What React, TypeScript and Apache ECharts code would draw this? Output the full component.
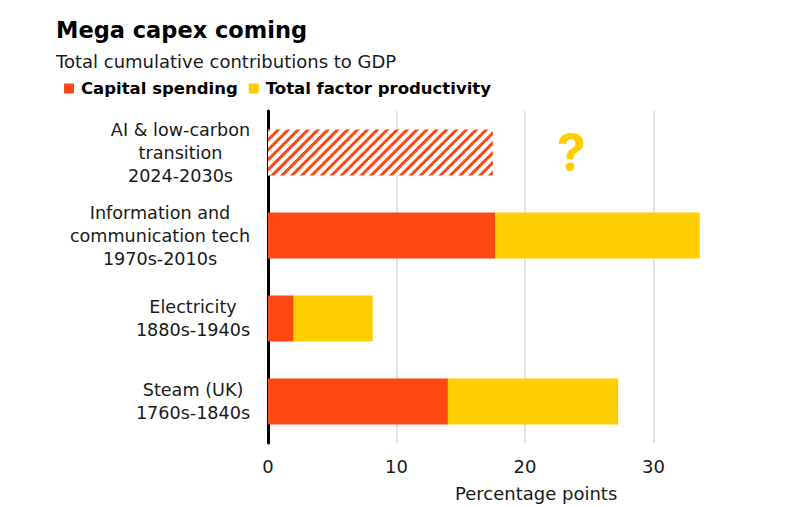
import React, { useEffect, useRef } from "react";
import * as echarts from "echarts";

const CATEGORIES = [
  "AI & low-carbon\ntransition\n2024-2030s",
  "Information and\ncommunication tech\n1970s-2010s",
  "Electricity\n1880s-1940s",
  "Steam (UK)\n1760s-1840s",
];
const CAPITAL_SPENDING = [17.5, 17.7, 2.0, 14.0];
const TFP = [null, 15.9, 6.15, 13.25];
const HATCHED_INDEX = 0;
const QUESTION_MARK_X = 23.6;
const X_TICKS_MAX = 35;

const FONT = "'DejaVu Sans', sans-serif";
const ORANGE = "#ff4713";
const YELLOW = "#ffce00";
const TEXT = "#1a1a1a";

function measure(text: string, font: string) {
  const ctx = document.createElement("canvas").getContext("2d")!;
  ctx.font = font;
  return ctx.measureText(text).width;
}

export default function App() {
  const ref = useRef<HTMLDivElement>(null);
  useEffect(() => {
    const chart = echarts.init(ref.current!, null, { renderer: "svg" });
    const labelFontSize = 17.6;
    const rich: Record<string, any> = {};
    CATEGORIES.forEach((c, i) => {
      const w = Math.max(
        ...c.split("\n").map((s) => measure(s, `${labelFontSize}px ${FONT}`))
      );
      rich["l" + i] = {
        width: Math.ceil(w) + 1,
        align: "center",
        fontSize: labelFontSize,
        lineHeight: 23,
        color: TEXT,
        fontFamily: FONT,
      };
    });

    chart.setOption({
      animation: false,
      textStyle: { fontFamily: FONT },
      title: [
        {
          text: "Mega capex coming",
          left: 56,
          top: 17,
          padding: 0,
          textStyle: { fontSize: 22.5, fontWeight: "bold", color: "#000", lineHeight: 26, fontFamily: FONT },
        },
        {
          text: "Total cumulative contributions to GDP",
          left: 56,
          top: 51,
          padding: 0,
          textStyle: { fontSize: 18, fontWeight: "normal", color: TEXT, lineHeight: 20, fontFamily: FONT },
        },
      ],
      legend: {
        left: 64,
        top: 80,
        padding: 0,
        icon: "rect",
        itemWidth: 10,
        itemHeight: 10,
        itemGap: 11,
        data: ["Capital spending", "Total factor productivity"],
        textStyle: { fontSize: 16.5, fontWeight: "bold", color: "#000", fontFamily: FONT, padding: [0, 0, 0, 2] },
      },
      grid: {
        left: 268,
        top: 111,
        bottom: 64,
        width: X_TICKS_MAX * 12.85,
        containLabel: false,
      },
      xAxis: {
        type: "value",
        min: 0,
        max: X_TICKS_MAX,
        interval: 10,
        axisLine: { show: false },
        axisTick: { show: false },
        splitLine: {
          show: true,
          showMinLine: false,
          showMaxLine: false,
          lineStyle: { color: "#d9d9e0", width: 1.5 },
        },
        axisLabel: {
          showMaxLabel: false,
          fontSize: 18,
          color: TEXT,
          margin: 14,
          fontFamily: FONT,
        },
      },
      yAxis: {
        type: "category",
        inverse: true,
        data: CATEGORIES,
        axisLine: { show: true, lineStyle: { color: "#000", width: 3 } },
        axisTick: { show: false },
        axisLabel: {
          margin: 17,
          formatter: (v: string, i: number) =>
            v.split("\n").map((s) => `{l${i}|${s}}`).join("\n"),
          rich,
        },
      },
      graphic: [
        {
          type: "text",
          left: 455,
          top: 484,
          style: { text: "Percentage points", fontSize: 18, fill: TEXT, fontFamily: FONT },
        },
      ],
      series: [
        {
          name: "Capital spending",
          type: "bar",
          stack: "total",
          barWidth: 46,
          itemStyle: { color: ORANGE },
          data: CAPITAL_SPENDING.map((v, i) =>
            i === HATCHED_INDEX
              ? {
                  value: v,
                  itemStyle: {
                    color: "#ffffff",
                    decal: {
                      symbol: "rect",
                      symbolSize: 1,
                      color: ORANGE,
                      dashArrayX: [1, 0],
                      dashArrayY: [3, 4],
                      rotation: -Math.PI / 4,
                    },
                  },
                }
              : v
          ),
        },
        {
          name: "Total factor productivity",
          type: "bar",
          stack: "total",
          barWidth: 46,
          itemStyle: { color: YELLOW },
          data: TFP,
          markPoint: {
            symbol: "circle",
            symbolSize: 0,
            data: [{ coord: [QUESTION_MARK_X, CATEGORIES[HATCHED_INDEX]] }],
            label: {
              show: true,
              position: "inside",
              formatter: "?",
              fontSize: 52,
              fontWeight: "bold",
              color: YELLOW,
              fontFamily: "Inter, sans-serif",
            },
          },
        },
      ],
    });
    return () => chart.dispose();
  }, []);
  return (
    <div
      ref={ref}
      style={{ position: "fixed", left: 0, top: 0, width: 800, height: 507, background: "#fff" }}
    />
  );
}
